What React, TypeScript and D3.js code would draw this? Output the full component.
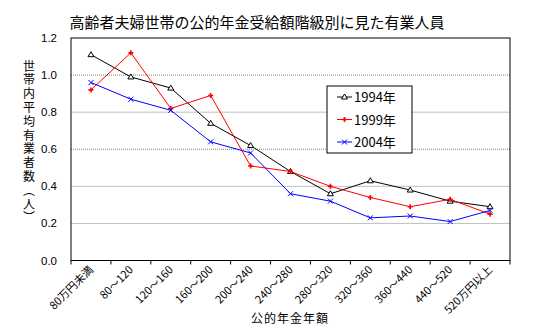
import React from "react";
import * as d3 from "d3";

const categories = ["80万円未満", "80～120", "120～160", "160～200", "200～240", "240～280", "280～320", "320～360", "360～440", "440～520", "520万円以上"];
const series1994 = [1.11, 0.99, 0.93, 0.74, 0.62, 0.48, 0.36, 0.43, 0.38, 0.32, 0.29];
const series1999 = [0.92, 1.12, 0.82, 0.89, 0.51, 0.48, 0.40, 0.34, 0.29, 0.33, 0.25];
const series2004 = [0.96, 0.87, 0.81, 0.64, 0.58, 0.36, 0.32, 0.23, 0.24, 0.21, 0.27];
const yTicks = [0, 0.2, 0.4, 0.6, 0.8, 1.0, 1.2];
const seriesNames = ["1994年", "1999年", "2004年"];
const title = "高齢者夫婦世帯の公的年金受給額階級別に見た有業人員";
const yTitle = "世帯内平均有業者数（人）";
const xTitle = "公的年金年額";

const W = 558, H = 334;
const L = 71, R = 510, T = 38, B = 260.5;
const JP = "'Noto Sans CJK JP', 'Noto Sans', sans-serif";
const NUM = "'Liberation Sans', Arial, sans-serif";

export default function App() {
  const x = d3.scaleBand<string>().domain(categories).range([L, R]);
  const y = d3.scaleLinear().domain([0, 1.2]).range([B, T]);
  const cx = (c: string) => (x(c) as number) + x.bandwidth() / 2;
  const line = d3.line<[string, number]>().x(d => cx(d[0])).y(d => y(d[1]));
  const colors = ["#000000", "#ff0000", "#0000ff"];
  const data = [series1994, series1999, series2004];

  const marker = (k: number, px: number, py: number, key: string) => {
    if (k === 0) {
      return <path key={key} d={`M${px},${py - 3}L${px + 3},${py + 2}L${px - 3},${py + 2}Z`} fill="white" stroke="#000" strokeWidth={1} />;
    }
    if (k === 1) {
      return <path key={key} d={`M${px - 2.5},${py}L${px + 2.5},${py}M${px},${py - 2.5}L${px},${py + 2.5}`} stroke="#f00" strokeWidth={1.6} />;
    }
    return <path key={key} d={`M${px - 2.5},${py - 2.5}L${px + 2.5},${py + 2.5}M${px + 2.5},${py - 2.5}L${px - 2.5},${py + 2.5}`} stroke="#00f" strokeWidth={1} />;
  };

  const boundaries = d3.range(categories.length + 1).map(i => L + i * x.step());
  const isDotted = (t: number) => Math.abs(t - 1.0) < 1e-6 || Math.abs(t - 0.6) < 1e-6;

  return (
    <svg width={W} height={H} style={{ position: "absolute", left: 0, top: 0, background: "#fff" }}>
      <rect x={0} y={0} width={W} height={H} fill="#fff" />
      <text x={257} y={28} textAnchor="middle" fontFamily={JP} fontSize={15}>{title}</text>
      {yTicks.map((t, i) => (
        <g key={"yt" + i}>
          {t > 0 && t < 1.2 && (
            <line x1={L} x2={R} y1={y(t)} y2={y(t)}
              stroke={isDotted(t) ? "#808080" : "#c0c0c0"}
              strokeDasharray={isDotted(t) ? "1,1" : undefined}
              strokeWidth={1} />
          )}
          <text x={57} y={y(t) + 4} textAnchor="end" fontFamily={NUM} fontSize={11.5}>{t.toFixed(1)}</text>
        </g>
      ))}
      <rect x={L} y={T} width={R - L} height={B - T} fill="none" stroke="#000" strokeWidth={1} />
      {boundaries.map((bx, i) => (
        <line key={"xt" + i} x1={bx} x2={bx} y1={B} y2={B + 4} stroke="#000" />
      ))}
      {data.map((s, k) => (
        <g key={"s" + k}>
          <path d={line(categories.map((c, i) => [c, s[i]] as [string, number])) || ""} fill="none" stroke={colors[k]} strokeWidth={1} />
          {categories.map((c, i) => marker(k, cx(c), y(s[i]), "m" + k + "-" + i))}
        </g>
      ))}
      {categories.map((c, i) => (
        <text key={"xl" + i} transform={`translate(${cx(c) + 3},${B + 10}) rotate(-45)`} textAnchor="end" fontFamily={JP} fontSize={11}>{c}</text>
      ))}
      <text x={290} y={323} textAnchor="middle" fontFamily={JP} fontSize={12} letterSpacing={1}>{xTitle}</text>
      <text x={29} y={60} fontFamily={JP} fontSize={12} letterSpacing={1.8}
        style={{ writingMode: "vertical-rl", textOrientation: "upright" } as React.CSSProperties}>{yTitle}</text>
      <rect x={327} y={86} width={85} height={67} fill="#fff" stroke="#000" strokeWidth={1} />
      {seriesNames.map((n, k) => {
        const ly = 97 + k * 22.5;
        return (
          <g key={"lg" + k}>
            <line x1={337} x2={352} y1={ly} y2={ly} stroke={colors[k]} />
            {marker(k, 344.5, ly, "lm" + k)}
            <text x={354} y={ly + 5} fontFamily={JP} fontSize={13}>{n}</text>
          </g>
        );
      })}
    </svg>
  );
}
